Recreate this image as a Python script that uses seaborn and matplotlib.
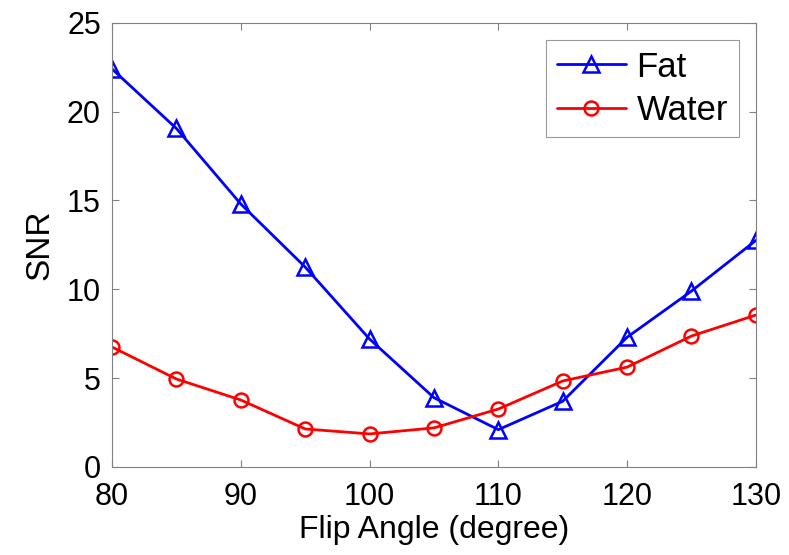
import matplotlib
matplotlib.use("Agg")
import matplotlib.pyplot as plt
import seaborn as sns
import pandas as pd

flip_angle = [80, 85, 90, 95, 100, 105, 110, 115, 120, 125, 130]
fat_snr = [22.4, 19.05, 14.8, 11.25, 7.2, 3.9, 2.1, 3.7, 7.3, 9.9, 12.75]
water_snr = [6.75, 4.95, 3.77, 2.14, 1.86, 2.2, 3.26, 4.84, 5.62, 7.37, 8.55]
x_ticks = [80, 90, 100, 110, 120, 130]
y_ticks = [0, 5, 10, 15, 20, 25]

sns.set_theme(style="white")
plt.rcParams['font.family'] = ['Liberation Sans', 'DejaVu Sans']
plt.rcParams['text.color'] = 'black'
plt.rcParams['axes.labelcolor'] = 'black'
plt.rcParams['xtick.color'] = 'black'
plt.rcParams['ytick.color'] = 'black'

fig = plt.figure(figsize=(7.89, 5.55), dpi=100)
ax = fig.add_axes([0.142, 0.1586, 0.816, 0.8004])

df_fat = pd.DataFrame({"x": flip_angle, "y": fat_snr})
df_water = pd.DataFrame({"x": flip_angle, "y": water_snr})

sns.lineplot(data=df_fat, x="x", y="y", ax=ax, color="#0000ff", linewidth=2,
             marker="^", markersize=11, markerfacecolor="none",
             markeredgecolor="#0000ff", markeredgewidth=1.8, label="Fat")
sns.lineplot(data=df_water, x="x", y="y", ax=ax, color="#ff0000", linewidth=2,
             marker="o", markersize=10, markerfacecolor="none",
             markeredgecolor="#ff0000", markeredgewidth=1.8, label="Water")

ax.set_xlim(80, 130)
ax.set_ylim(0, 25)
ax.set_xticks(x_ticks)
ax.set_yticks(y_ticks)
ax.tick_params(axis="both", direction="in", length=5, width=0.8,
               labelsize=22, top=True, right=True, bottom=True, left=True)
ax.tick_params(axis="x", pad=11, color="#808080", labelcolor="black")
ax.tick_params(axis="y", pad=8, color="#808080", labelcolor="black")
for s in ax.spines.values():
    s.set_visible(True)
    s.set_color("#808080")
    s.set_linewidth(0.8)

ax.set_xlabel("Flip Angle (degree)", fontsize=23, labelpad=2, color="black")
ax.set_ylabel("SNR", fontsize=24, labelpad=8, color="black")

leg = ax.legend(loc="upper right", fontsize=25, frameon=True, fancybox=False,
                edgecolor="#808080", handlelength=2.0, handletextpad=0.3,
                borderpad=0.3, labelspacing=0.3, borderaxespad=0.5)
leg.get_frame().set_linewidth(0.8)
for t in leg.get_texts():
    t.set_color("black")

fig.savefig("out.png", dpi=100)
